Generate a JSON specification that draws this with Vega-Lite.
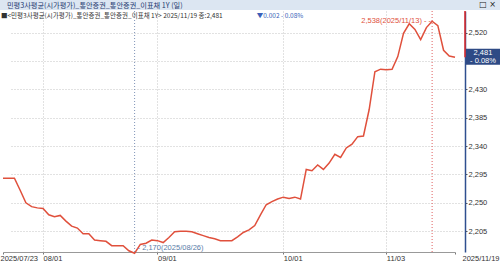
{
  "$schema": "https://vega.github.io/schema/vega-lite/v6.json",
  "padding": 0,
  "spacing": 0,
  "background": "white",
  "config": {"view": {"stroke": null}, "font": "Liberation Sans", "concat": {"spacing": 0}},
  "vconcat": [
    {
      "width": 500,
      "height": 10,
      "view": {"fill": "#dce6f2", "stroke": null},
      "data": {"values": [{"t": "민평3사평균(시가평가)_통안증권_통안증권_이표채 1Y (일)", "i": "□ ×"}]},
      "layer": [
        {"mark": {"type": "text", "align": "left", "baseline": "middle", "dx": -243, "dy": 0.5, "fontSize": 7.2, "font": "Noto Sans CJK KR", "color": "#1f3a70"},
         "encoding": {"text": {"field": "t"}}},
        {"mark": {"type": "text", "align": "right", "baseline": "middle", "dx": 246, "fontSize": 8, "font": "DejaVu Sans", "color": "#222"},
         "encoding": {"text": {"field": "i"}}}
      ]
    },
    {
      "width": 465,
      "height": 241,
      "data": {"values": [
        {"date": "2025-07-23", "v": 2289}, {"date": "2025-07-24", "v": 2289}, {"date": "2025-07-25", "v": 2289},
        {"date": "2025-07-28", "v": 2270}, {"date": "2025-07-29", "v": 2250}, {"date": "2025-07-30", "v": 2244},
        {"date": "2025-07-31", "v": 2242}, {"date": "2025-08-01", "v": 2241}, {"date": "2025-08-04", "v": 2231},
        {"date": "2025-08-05", "v": 2228}, {"date": "2025-08-06", "v": 2230}, {"date": "2025-08-07", "v": 2221},
        {"date": "2025-08-08", "v": 2213}, {"date": "2025-08-11", "v": 2210}, {"date": "2025-08-12", "v": 2201},
        {"date": "2025-08-13", "v": 2201}, {"date": "2025-08-14", "v": 2191}, {"date": "2025-08-18", "v": 2190},
        {"date": "2025-08-19", "v": 2189}, {"date": "2025-08-20", "v": 2182}, {"date": "2025-08-21", "v": 2182},
        {"date": "2025-08-22", "v": 2182}, {"date": "2025-08-25", "v": 2174}, {"date": "2025-08-26", "v": 2170},
        {"date": "2025-08-27", "v": 2184}, {"date": "2025-08-28", "v": 2186}, {"date": "2025-08-29", "v": 2191},
        {"date": "2025-09-01", "v": 2190}, {"date": "2025-09-02", "v": 2187}, {"date": "2025-09-03", "v": 2195},
        {"date": "2025-09-04", "v": 2204}, {"date": "2025-09-05", "v": 2205}, {"date": "2025-09-08", "v": 2205},
        {"date": "2025-09-09", "v": 2204}, {"date": "2025-09-10", "v": 2201}, {"date": "2025-09-11", "v": 2198},
        {"date": "2025-09-12", "v": 2195}, {"date": "2025-09-15", "v": 2193}, {"date": "2025-09-16", "v": 2190},
        {"date": "2025-09-17", "v": 2190}, {"date": "2025-09-18", "v": 2190}, {"date": "2025-09-19", "v": 2196},
        {"date": "2025-09-22", "v": 2203}, {"date": "2025-09-23", "v": 2207}, {"date": "2025-09-24", "v": 2214},
        {"date": "2025-09-25", "v": 2231}, {"date": "2025-09-26", "v": 2247}, {"date": "2025-09-29", "v": 2252},
        {"date": "2025-09-30", "v": 2256}, {"date": "2025-10-01", "v": 2259}, {"date": "2025-10-02", "v": 2257},
        {"date": "2025-10-10", "v": 2259}, {"date": "2025-10-13", "v": 2256}, {"date": "2025-10-14", "v": 2303},
        {"date": "2025-10-15", "v": 2301}, {"date": "2025-10-16", "v": 2310}, {"date": "2025-10-17", "v": 2303},
        {"date": "2025-10-20", "v": 2313}, {"date": "2025-10-21", "v": 2327}, {"date": "2025-10-22", "v": 2322},
        {"date": "2025-10-23", "v": 2337}, {"date": "2025-10-24", "v": 2343}, {"date": "2025-10-27", "v": 2355},
        {"date": "2025-10-28", "v": 2356}, {"date": "2025-10-29", "v": 2398}, {"date": "2025-10-30", "v": 2458},
        {"date": "2025-10-31", "v": 2462}, {"date": "2025-11-03", "v": 2461}, {"date": "2025-11-04", "v": 2462},
        {"date": "2025-11-05", "v": 2482}, {"date": "2025-11-06", "v": 2519}, {"date": "2025-11-07", "v": 2534},
        {"date": "2025-11-10", "v": 2525}, {"date": "2025-11-11", "v": 2509}, {"date": "2025-11-12", "v": 2528},
        {"date": "2025-11-13", "v": 2538}, {"date": "2025-11-14", "v": 2531}, {"date": "2025-11-17", "v": 2492},
        {"date": "2025-11-18", "v": 2483}, {"date": "2025-11-19", "v": 2481}
      ]},
      "layer": [
        {
          "mark": {"type": "line", "color": "#e0503c", "strokeWidth": 1.5},
          "encoding": {
            "x": {
              "field": "date", "type": "ordinal",
              "scale": {"type": "point", "range": [3, 455], "padding": 0},
              "axis": {
                "title": null,
                "values": ["2025-07-23", "2025-08-01", "2025-09-01", "2025-10-01", "2025-11-03", "2025-11-19"],
                "labelExpr": "datum.value=='2025-07-23' ? '2025/07/23' : (datum.value=='2025-11-19' ? '2025/11/19' : slice(datum.value,5,7)+'/'+slice(datum.value,8,10))",
                "labelAlign": {"condition": {"test": "datum.value=='2025-11-19'", "value": "right"}, "value": "left"},
                "labelAngle": 0,
                "labelBaseline": "top",
                "labelOffset": {"condition": [{"test": "datum.value=='2025-07-23'", "value": -3}, {"test": "datum.value=='2025-11-19'", "value": 44}], "value": 0},
                "labelFontSize": 7.5,
                "labelColor": "#333",
                "labelPadding": 0,
                "labelFlush": false,
                "labelOverlap": false,
                "labelBound": false,
                "tickSize": 2,
                "tickColor": "#777",
                "domainColor": "#999",
                "grid": true,
                "gridDash": [1, 2],
                "gridColor": "#c4c4c4",
                "gridOpacity": {"condition": {"test": "datum.value=='2025-07-23' || datum.value=='2025-11-19'", "value": 0}, "value": 1}
              }
            },
            "y": {
              "field": "v", "type": "quantitative",
              "scale": {"domain": [2172, 2554.3], "nice": false, "zero": false},
              "axis": {
                "orient": "right",
                "title": null,
                "values": [2205, 2250, 2295, 2340, 2385, 2430, 2475, 2520],
                "tickCount": 20,
                "labelExpr": "datum.value==2475 ? '' : format(datum.value, ',')",
                "labelFontSize": 7.5,
                "labelColor": "#333",
                "labelPadding": 1,
                "labelOverlap": false,
                "labelBound": false,
                "tickSize": 2,
                "tickColor": "#555",
                "domainColor": "#2f4f8f",
                "domainWidth": 1.5,
                "grid": true,
                "gridDash": [1, 2],
                "gridColor": "#c4c4c4"
              }
            }
          }
        },
        {
          "data": {"values": [{}]},
          "mark": {"type": "rule", "color": "#8094b8", "strokeDash": [1, 2], "strokeWidth": 1},
          "encoding": {"x": {"datum": "2025-08-26", "type": "ordinal"}}
        },
        {
          "data": {"values": [{}]},
          "mark": {"type": "rule", "color": "#e06060", "strokeDash": [1, 2], "strokeWidth": 1},
          "encoding": {"x": {"datum": "2025-11-13", "type": "ordinal"}}
        },
        {
          "data": {"values": [{}]},
          "mark": {"type": "rule", "color": "#e02828", "strokeWidth": 1.5},
          "encoding": {"x": {"value": {"expr": "concat_1_width"}}, "y": {"datum": 2481, "type": "quantitative"}, "y2": {"datum": 2554.3}}
        },
        {
          "data": {"values": [{}]},
          "mark": {"type": "rect", "color": "#2e4a85"},
          "encoding": {"x": {"value": {"expr": "concat_1_width+1"}}, "x2": {"value": {"expr": "concat_1_width+35"}}, "y": {"datum": 2494.3, "type": "quantitative"}, "y2": {"datum": 2469}}
        },
        {
          "data": {"values": [{"t": "2,481", "y": 2487.2}, {"t": "- 0.08%", "y": 2475.3}]},
          "mark": {"type": "text", "color": "white", "fontSize": 7.5, "align": "center", "baseline": "middle"},
          "encoding": {"x": {"value": {"expr": "concat_1_width+18"}}, "y": {"field": "y", "type": "quantitative"}, "text": {"field": "t"}}
        },
        {
          "data": {"values": [{"t": "■<민평3사평균(시가평가)_통안증권_통안증권_이표채 1Y> 2025/11/19 종:2,481"}]},
          "mark": {"type": "text", "color": "#333", "fontSize": 6.5, "font": "Noto Sans CJK KR", "align": "left", "baseline": "middle", "dx": -2},
          "encoding": {"x": {"datum": "2025-07-23", "type": "ordinal"}, "y": {"datum": 2545.6, "type": "quantitative"}, "text": {"field": "t"}}
        },
        {
          "data": {"values": [{"t": "▼0.002 - 0.08%"}]},
          "mark": {"type": "text", "color": "#3a5fb8", "fontSize": 6.5, "font": "Noto Sans CJK KR", "align": "left", "baseline": "middle", "dx": 2},
          "encoding": {"x": {"datum": "2025-09-24", "type": "ordinal"}, "y": {"datum": 2545.6, "type": "quantitative"}, "text": {"field": "t"}}
        },
        {
          "data": {"values": [{"t": "- 2,170(2025/08/26)"}]},
          "mark": {"type": "text", "color": "#5a7ca8", "fontSize": 7.5, "align": "left", "baseline": "middle", "dx": 3},
          "encoding": {"x": {"datum": "2025-08-26", "type": "ordinal"}, "y": {"datum": 2178.5, "type": "quantitative"}, "text": {"field": "t"}}
        },
        {
          "data": {"values": [{"t": "2,538(2025/11/13) - -"}]},
          "mark": {"type": "text", "color": "#e0503c", "fontSize": 7.5, "align": "right", "baseline": "middle", "dx": -1},
          "encoding": {"x": {"datum": "2025-11-13", "type": "ordinal"}, "y": {"datum": 2538, "type": "quantitative"}, "text": {"field": "t"}}
        }
      ]
    }
  ]
}
